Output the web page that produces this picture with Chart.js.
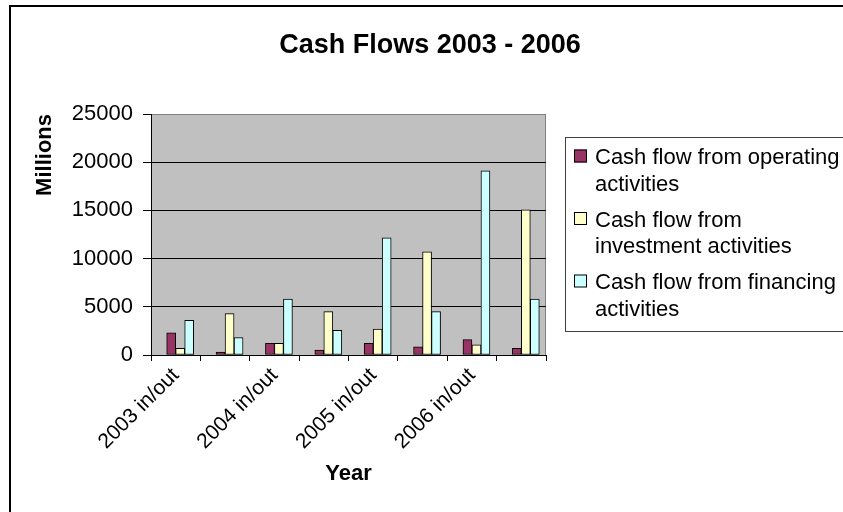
<!doctype html>
<html>

<head>
    <title>Cash Flows 2003 - 2006</title>
    <script src="https://cdn.jsdelivr.net/npm/chart.js"></script>
</head>

<body style="margin:0; background-color:#fff;">

    <div style="position:relative; width:843px; height:512px;">
        <canvas id="cashFlows"></canvas>
    </div>

    <script>

        var years = ['2003 in/out', '', '2004 in/out', '', '2005 in/out', '', '2006 in/out', ''];
        var operating = [2300, 300, 1200, 500, 1200, 850, 1600, 700];
        var investment = [700, 4300, 1200, 4500, 2700, 10700, 1050, 15050];
        var financing = [3600, 1800, 5800, 2550, 12150, 4500, 19100, 5800];
        var yTicks = [0, 5000, 10000, 15000, 20000, 25000];

        var legendLines = [
            ['Cash flow from operating', 'activities'],
            ['Cash flow from', 'investment activities'],
            ['Cash flow from financing', 'activities']
        ];
        var colors = ['#993366', '#FFFFCC', '#CCFFFF'];
        var chartTitle = 'Cash Flows 2003 - 2006';
        var fontFamily = '"Liberation Sans", Arial, sans-serif';

        Chart.defaults.font.family = fontFamily;
        Chart.defaults.color = '#000';

        // grey plot area with a grey frame, grid and axes go on top
        var plotBackground = {
            id: 'plotBackground',
            beforeDraw: function (chart) {
                var a = chart.chartArea;
                var ctx = chart.ctx;
                ctx.save();
                ctx.fillStyle = '#C0C0C0';
                ctx.fillRect(a.left, a.top, a.right - a.left, a.bottom - a.top);
                ctx.strokeStyle = '#808080';
                ctx.lineWidth = 1;
                ctx.strokeRect(a.left + 0.5, a.top + 0.5, a.right - a.left - 1, a.bottom - a.top);
                ctx.restore();
            }
        };

        // outer frame, title and the boxed legend with wrapped labels
        var decorations = {
            id: 'decorations',
            afterDraw: function (chart) {
                var ctx = chart.ctx;
                ctx.save();

                ctx.strokeStyle = '#000';
                ctx.lineWidth = 2;
                ctx.beginPath();
                ctx.moveTo(10, 512);
                ctx.lineTo(10, 6);
                ctx.lineTo(843, 6);
                ctx.stroke();

                ctx.fillStyle = '#000';
                ctx.font = 'bold 27px ' + fontFamily;
                ctx.textAlign = 'center';
                ctx.textBaseline = 'alphabetic';
                ctx.fillText(chartTitle, 430, 53);

                ctx.strokeStyle = '#404040';
                ctx.lineWidth = 1;
                ctx.strokeRect(565.5, 137.5, 300, 194);

                ctx.font = '22px ' + fontFamily;
                ctx.textAlign = 'left';
                chart.data.datasets.slice(1).forEach(function (ds, i) {
                    var y = 156 + i * 62.5;
                    ctx.fillStyle = ds.backgroundColor;
                    ctx.fillRect(574, y - 6.5, 13, 13);
                    ctx.strokeStyle = '#000';
                    ctx.strokeRect(574.5, y - 6, 12, 12);
                    ctx.fillStyle = '#000';
                    legendLines[i].forEach(function (line, j) {
                        ctx.fillText(line, 595, y + 8 + j * 26.5);
                    });
                });

                ctx.restore();
            }
        };

        function barSet(label, values, color) {
            return {
                label: label,
                data: values,
                backgroundColor: color,
                borderColor: '#000',
                borderWidth: 1,
                borderSkipped: false,
                barThickness: 9
            };
        }

        var cashFlows = new Chart(document.getElementById('cashFlows').getContext('2d'), {
            type: 'bar',
            data: {
                labels: years,
                datasets: [
                    // empty slot so the three bars sit right of the category centre
                    barSet('', years.map(function () { return null; }), 'rgba(0,0,0,0)'),
                    barSet(legendLines[0].join(' '), operating, colors[0]),
                    barSet(legendLines[1].join(' '), investment, colors[1]),
                    barSet(legendLines[2].join(' '), financing, colors[2])
                ]
            },
            options: {
                responsive: true,
                maintainAspectRatio: false,
                animation: false,
                layout: {
                    padding: { top: 114, right: 297, bottom: 0, left: 0 }
                },
                plugins: {
                    legend: { display: false },
                    title: { display: false },
                    tooltip: { enabled: false }
                },
                scales: {
                    x: {
                        offset: true,
                        grid: {
                            offset: true,
                            drawOnChartArea: false,
                            color: '#000',
                            tickLength: 6
                        },
                        border: { color: '#000', width: 1 },
                        ticks: {
                            autoSkip: false,
                            minRotation: 45,
                            maxRotation: 45,
                            padding: 2,
                            color: '#000',
                            font: { size: 21 }
                        },
                        title: {
                            display: true,
                            text: 'Year',
                            color: '#000',
                            font: { size: 22, weight: 'bold' },
                            padding: { top: 0, bottom: 25 }
                        },
                        afterFit: function (scale) {
                            scale.height = 157;
                        }
                    },
                    y: {
                        min: 0,
                        max: 25000,
                        afterBuildTicks: function (scale) {
                            scale.ticks = yTicks.map(function (v) { return { value: v }; });
                        },
                        grid: {
                            color: function (ctx) {
                                return ctx.tick && ctx.tick.value === 25000 ? '#808080' : '#000';
                            },
                            tickColor: '#000',
                            tickLength: 8
                        },
                        border: { color: '#000', width: 1 },
                        ticks: {
                            padding: 10,
                            color: '#000',
                            font: { size: 22 },
                            callback: function (value) {
                                return String(value);
                            }
                        },
                        title: {
                            display: true,
                            text: 'Millions',
                            align: 'end',
                            color: '#000',
                            font: { size: 22, weight: 'bold' },
                            padding: { top: 32, bottom: 0 }
                        },
                        afterFit: function (scale) {
                            scale.width = 151;
                        }
                    }
                }
            },
            plugins: [plotBackground, decorations]
        });

    </script>
</body>

</html>
